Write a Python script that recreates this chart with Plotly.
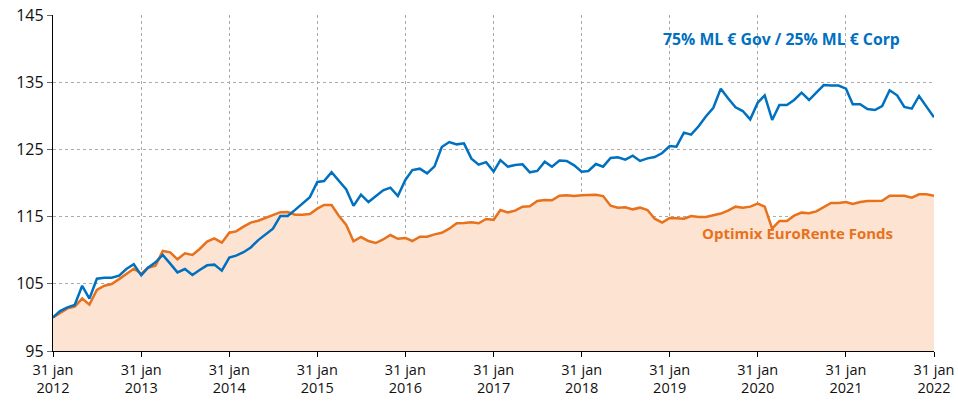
import pandas as pd
import plotly.graph_objects as go

dates = pd.date_range("2012-01-31", periods=121, freq="ME")

benchmark = [
    100.0, 100.95, 101.5, 101.85, 104.7, 102.8, 105.76, 105.9, 105.9, 106.2, 107.2, 107.9,
    106.26, 107.4, 108.2, 109.3, 108.0, 106.7, 107.2, 106.3, 107.05, 107.75, 107.85, 106.95,
    108.9, 109.2, 109.7, 110.4, 111.5, 112.4, 113.2, 115.1, 115.1, 116.0, 117.0, 117.9,
    120.15, 120.3, 121.6, 120.3, 119.05, 116.6, 118.26, 117.17, 118.06, 118.9, 119.3, 118.06,
    120.45, 121.93, 122.13, 121.44, 122.48, 125.36, 126.1, 125.75, 125.9, 123.62, 122.73, 123.1,
    121.7, 123.4, 122.43, 122.68, 122.78, 121.59, 121.79, 123.18, 122.43, 123.33, 123.28, 122.63,
    121.69, 121.79, 122.83, 122.43, 123.72, 123.82, 123.47, 124.07, 123.28, 123.67, 123.87, 124.46,
    125.5, 125.4, 127.5, 127.2, 128.45, 129.9, 131.2, 134.04, 132.6, 131.26, 130.71, 129.47,
    131.95, 133.04, 129.38, 131.6, 131.6, 132.35, 133.44, 132.35, 133.44, 134.58, 134.5, 134.5,
    134.04, 131.71, 131.71, 131.01, 130.86, 131.46, 133.79, 133.05, 131.31, 131.06, 132.95, 131.36,
    129.77,
]

fund = [
    100.0, 100.7, 101.35, 101.6, 102.8, 101.9, 104.08, 104.72, 104.97, 105.7, 106.5, 107.25,
    106.5, 107.4, 107.7, 109.88, 109.68, 108.64, 109.53, 109.29, 110.18, 111.27, 111.76, 111.12,
    112.6, 112.8, 113.5, 114.1, 114.39, 114.79, 115.19, 115.66, 115.68, 115.29, 115.29, 115.39,
    116.18, 116.73, 116.73, 115.14, 113.75, 111.32, 111.96, 111.37, 111.07, 111.6, 112.26, 111.7,
    111.82, 111.37, 112.01, 112.01, 112.36, 112.6, 113.2, 114.0, 114.05, 114.15, 114.0, 114.64,
    114.52, 115.98, 115.62, 115.88, 116.48, 116.53, 117.32, 117.47, 117.42, 118.11, 118.16, 118.06,
    118.16, 118.26, 118.26, 118.06, 116.63, 116.33, 116.38, 116.08, 116.33, 115.98, 114.69, 114.1,
    114.79, 114.74, 114.69, 115.09, 114.94, 114.94, 115.24, 115.45, 115.88, 116.48, 116.33, 116.48,
    116.93, 116.48, 113.2, 114.35, 114.35, 115.14, 115.59, 115.49, 115.78, 116.38, 117.02, 117.02,
    117.17, 116.87, 117.17, 117.32, 117.37, 117.37, 118.11, 118.16, 118.11, 117.82, 118.31, 118.31,
    118.11,
]

years = list(range(2012, 2023))
tick_dates = [pd.Timestamp(f"{y}-01-31") for y in years]
tick_labels = [f"31 jan<br>{y}" for y in years]
y_ticks = [95, 105, 115, 125, 135, 145]

bench_name = "75% ML € Gov / 25% ML € Corp"
fund_name = "Optimix EuroRente Fonds"

BLUE = "#0070C0"
ORANGE = "#E8711C"
FILL = "#FCE3D2"
FONT = "Open Sans"
TXT = "#111111"

fig = go.Figure()
fig.add_trace(go.Scatter(
    x=dates, y=fund, mode="lines", name=fund_name,
    line=dict(color=ORANGE, width=2.5), fill="tozeroy", fillcolor=FILL,
))
fig.add_trace(go.Scatter(
    x=dates, y=benchmark, mode="lines", name=bench_name,
    line=dict(color=BLUE, width=2.5),
))

fig.add_annotation(x=pd.Timestamp("2020-05-10"), y=141.4, text=f"<b>{bench_name}</b>",
                   showarrow=False, font=dict(family=FONT, size=15.8, color=BLUE))
fig.add_annotation(x=pd.Timestamp("2020-07-15"), y=112.6, text=f"<b>{fund_name}</b>",
                   showarrow=False, font=dict(family=FONT, size=15, color=ORANGE))

fig.update_layout(
    width=958, height=405,
    margin=dict(l=53, r=24, t=15, b=54),
    paper_bgcolor="white", plot_bgcolor="white",
    showlegend=False,
    font=dict(family=FONT, size=14, color=TXT),
)
fig.update_xaxes(
    range=[dates[0], dates[-1]],
    tickvals=tick_dates, ticktext=tick_labels,
    showgrid=True, gridcolor="#ABABAB", griddash="dot", gridwidth=1,
    showline=True, linecolor="black", linewidth=1.3,
    ticks="outside", ticklen=5, tickcolor="black",
    tickfont=dict(family=FONT, size=14.5, color=TXT),
    zeroline=False, automargin=False, ticklabeloverflow="allow",
)
fig.update_yaxes(
    range=[95, 145], tickvals=y_ticks,
    showgrid=True, gridcolor="#ABABAB", griddash="dot", gridwidth=1,
    showline=True, linecolor="black", linewidth=1.3,
    ticks="outside", ticklen=5, tickcolor="#666666",
    tickfont=dict(family=FONT, size=16, color=TXT),
    zeroline=False, automargin=False, ticklabeloverflow="allow",
)

# remove the default 8px page margin so the figure sits exactly in the window
fig.write_html(
    "out.html",
    config={"displayModeBar": False},
    post_script="document.body.style.margin='0';",
)
